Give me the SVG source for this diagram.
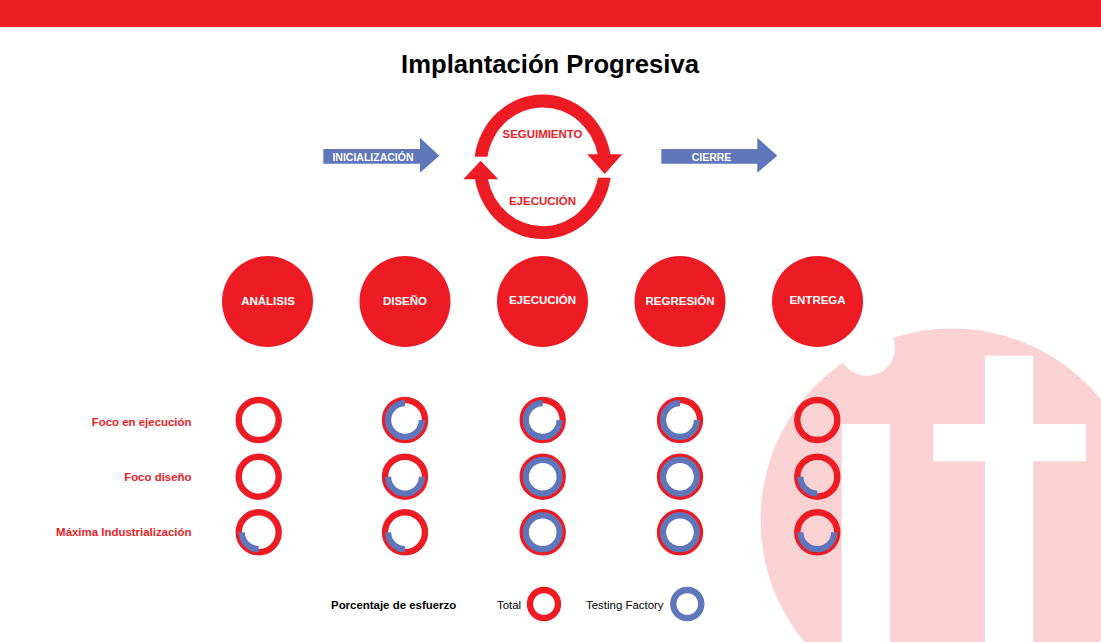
<svg xmlns="http://www.w3.org/2000/svg" xmlns:xlink="http://www.w3.org/1999/xlink" width="1101" height="642" viewBox="0 0 1101 642">
<style>
text{font-family:"Liberation Sans",Arial,sans-serif}
.b{font-weight:700}
.m{text-anchor:middle}
.e{text-anchor:end}
.w{fill:#fff}
.r{fill:#ed1c24}
.k{fill:#000}
.bl{fill:#5f76ba}
.s{font-size:11.45px}
.ring{fill:none;stroke:#ed1c24;stroke-width:6.4}
.arc{fill:none;stroke:#5f76ba;stroke-width:6.2}
</style>
<defs>
<circle id="total" class="ring" r="20"/>
<circle id="full" class="arc" r="16.9"/>
<path id="q" class="arc" d="M-16.9 0A16.9 16.9 0 0 0 0 16.9"/>
<path id="h" class="arc" d="M-16.9 0A16.9 16.9 0 0 0 16.9 0"/>
<path id="t" class="arc" d="M0 -16.9A16.9 16.9 0 1 0 16.9 0"/>
</defs>
<rect id="top-bar" width="1101" height="27" fill="#ed1c24"/>
<g id="logo">
<circle cx="952" cy="520" r="191.5" fill="#fad2d3"/>
<circle cx="867" cy="348" r="28" fill="#fff"/>
<path fill="#fff" d="M841.7 424H890V642H841.7ZM985 355.7H1033.3V424H1086V461.3H1033.3V642H985V461.3H933.3V424H985Z"/>
</g>
<text id="title" class="b m" x="550" y="73" font-size="25.65">Implantación Progresiva</text>
<g id="connectors">
<path class="r" d="M474.6 156.7A68.6 72.2 0 0 1 542.7 94.6A68.6 72.2 0 0 1 610.4 154.3H622.3L604.7 174L587.3 154.3H597.7A56 59.4 0 0 0 542.7 107.4A56 59.4 0 0 0 487.5 156.7Z"/>
<path class="r" d="M610.6 177.7A68.6 72.2 0 0 1 542.7 239A68.6 72.2 0 0 1 475 179.3H463.3L480.7 160.7L498.3 179.3H487.9A56 59.4 0 0 0 542.7 226.2A56 59.4 0 0 0 597.8 177.7Z"/>
</g>
<g id="inicializacion"><path class="bl" d="M323.3 149H420V137.7L439.3 155.8L420 172.7V163.7H323.3Z"/><text class="b m w" x="373" y="160.5" font-size="10.5">INICIALIZACIÓN</text></g>
<g id="cierre"><path class="bl" d="M661.3 149H757.3V137.7L777.3 155.8L757.3 172.7V163.7H661.3Z"/><text class="b m w" x="711.5" y="160.5" font-size="10.5">CIERRE</text></g>
<g id="seguimiento"><text class="b m r" x="542.5" y="137.5" font-size="11.45">SEGUIMIENTO</text></g>
<g id="ejecucion-ciclo"><text class="b m r" x="542.5" y="205" font-size="11.5">EJECUCIÓN</text></g>
<g id="analisis"><circle class="r" cx="267.5" cy="301.5" r="45.5"/><text class="b m w" x="268" y="305" font-size="11.5">ANÁLISIS</text></g>
<g id="diseno"><circle class="r" cx="405" cy="301.5" r="45.5"/><text class="b m w" x="405" y="305" font-size="11.5">DISEÑO</text></g>
<g id="ejecucion"><circle class="r" cx="542.5" cy="301.5" r="45.5"/><text class="b m w" x="542.5" y="304" font-size="11.5">EJECUCIÓN</text></g>
<g id="regresion"><circle class="r" cx="680" cy="301.5" r="45.5"/><text class="b m w" x="680" y="305" font-size="11.5">REGRESIÓN</text></g>
<g id="entrega"><circle class="r" cx="817.5" cy="301.5" r="45.5"/><text class="b m w" x="817.5" y="304" font-size="11.5">ENTREGA</text></g>
<g id="label-foco-ejecucion"><text class="b e r s" x="191.5" y="426">Foco en ejecución</text></g>
<g id="label-foco-diseno"><text class="b e r s" x="191.5" y="481">Foco diseño</text></g>
<g id="label-maxima"><text class="b e r s" x="191.5" y="536">Máxima Industrialización</text></g>
<g id="gauges">
<g id="g11" transform="translate(258.7 420)"><use href="#total"/></g>
<g id="g21" transform="translate(258.7 476.7)"><use href="#total"/></g>
<g id="g31" transform="translate(258.7 532.3)"><use href="#total"/><use href="#q"/></g>
<g id="g12" transform="translate(405 420)"><use href="#total"/><use href="#t"/></g>
<g id="g22" transform="translate(405 476.7)"><use href="#total"/><use href="#h"/></g>
<g id="g32" transform="translate(405 532.3)"><use href="#total"/><use href="#q"/></g>
<g id="g13" transform="translate(542.7 420)"><use href="#total"/><use href="#t"/></g>
<g id="g23" transform="translate(542.7 476.7)"><use href="#total"/><use href="#full"/></g>
<g id="g33" transform="translate(542.7 532.3)"><use href="#total"/><use href="#full"/></g>
<g id="g14" transform="translate(680 420)"><use href="#total"/><use href="#t"/></g>
<g id="g24" transform="translate(680 476.7)"><use href="#total"/><use href="#full"/></g>
<g id="g34" transform="translate(680 532.3)"><use href="#total"/><use href="#full"/></g>
<g id="g15" transform="translate(817.3 420)"><use href="#total"/></g>
<g id="g25" transform="translate(817.3 476.7)"><use href="#total"/><use href="#q"/></g>
<g id="g35" transform="translate(817.3 532.3)"><use href="#total"/><use href="#h"/></g>
</g>
<g id="legend">
<text class="b k s" x="331" y="609">Porcentaje de esfuerzo</text>
<text class="k s" x="497" y="609">Total</text>
<circle cx="544" cy="604" r="14" class="ring"/>
<text class="k s" x="586" y="609">Testing Factory</text>
<circle cx="687.3" cy="604" r="14" class="arc" style="stroke-width:6.4"/>
</g>
</svg>
